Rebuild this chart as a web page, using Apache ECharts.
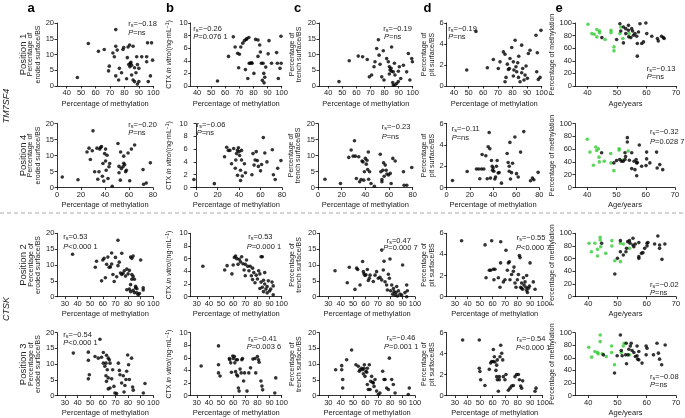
<!DOCTYPE html>
<html><head><meta charset="utf-8">
<script src="https://cdn.jsdelivr.net/npm/echarts@6/dist/echarts.min.js"></script>
<style>html,body{margin:0;padding:0;background:#fff}#c{width:685px;height:418px}</style>
</head><body><div id="c"></div>
<script>
// ---------------- DATA ----------------
const methTicks1 = [40,50,60,70,80,90,100];
const methTicks2 = [0,20,40,60,80];
const methTicks3 = [30,40,50,60,70,80,90,100];
const ageTicks = [40,50,60,70];
const rowLabels = ['Position 1','Position 4','Position 2','Position 3'];
const geneLabels = ['TM7SF4','CTSK'];
const panelLetters = ['a','b','c','d','e'];
const rsText = [['−0.18','−0.26','−0.19','−0.19','−0.13'],['−0.20','−0.06','−0.23','−0.11','−0.32'],['0.53','0.53','0.47','−0.55','−0.02'],['−0.54','−0.41','−0.46','−0.54','−0.08']];
const pText = [['=ns','=0.076 1','=ns','=ns','=ns'],['=ns','=ns','=ns','=ns','=0.028 7'],['<0.000 1','=0.000 1','=0.000 7','<0.000 7','=ns'],['<0.000 1','=0.003 6','=0.001 1','<0.000 1','=ns']];

const p1a = [[47.4,2.7],[55,13.5],[62,11],[66,11.6],[69,4.8],[69.5,6.3],[72,10.5],[73,9.3],[74,12.6],[74,17.9],[74,3.2],[75,11.4],[76,1.9],[76.5,5.6],[78,4.2],[79,11.6],[79.5,12.2],[81.5,2.3],[82,9],[82.5,12.4],[83.6,13],[84,7.2],[85,6.6],[83.8,6.1],[86,12.6],[85,3.5],[87,5.8],[86,1.9],[87,1.4],[88,4.2],[88.5,9.3],[89,6.8],[90,5.6],[90,1.4],[89,0.6],[92,9.3],[95.4,7.7],[96,13.7],[95.4,9.3],[96.5,1.4],[98,3.2],[98.8,13.7],[99.5,8.2],[83,6.8],[84.5,7.5]];
const p1b = [[54.5,0.8],[62.3,4.7],[67,6.2],[65.7,7.8],[70,5.05],[69.5,2.9],[68.8,5.2],[71,6.2],[72.4,6.8],[73.6,7.2],[74.8,7.4],[75.3,7.5],[76.7,7.7],[77,3.6],[77.7,3.6],[78.6,3.7],[74.3,2.6],[76,1.2],[80.3,2],[81.5,7.4],[83.2,7.3],[84.4,6.5],[84.9,5.4],[83.2,4.7],[85.6,3.6],[86.8,3.6],[86.3,0.9],[87.5,0.5],[88,1.4],[87.3,2],[88.7,3],[90.4,5.1],[91,7.2],[92.8,3.6],[96.4,5.3],[96.9,3.6],[97.6,1.2],[98.8,2.8],[99.6,3.6],[99.5,7.9],[79,3.6]];
const p1c = [[47.6,1.4],[54.9,8],[61.3,9.5],[64.4,9.3],[67.7,8.4],[69.2,2.9],[70.8,3.5],[72.5,6.1],[73.2,7.7],[74.4,11.9],[75.6,14.7],[76.1,9.8],[76.8,6.9],[78,2.9],[79.1,11.2],[79.6,1.9],[81.5,8.7],[82.7,7.7],[83.4,6.1],[83.9,5.1],[84.6,5.6],[85,4.7],[85.8,1.1],[86.2,0.3],[87.4,0.3],[88.6,0.8],[85,12.4],[87,7.2],[87.4,3.5],[89.8,4.7],[90.5,6.1],[91.5,2.4],[93.4,6.6],[95.7,4.5],[96.9,10.3],[98,1.9],[99.3,8.7],[99.8,7.7],[89.8,1.4],[86.2,4.5],[83.4,3.8]];
const p1d = [[48.7,1.52],[55,5.2],[62.8,1.74],[66.9,2.53],[70.3,1.67],[71.5,2.3],[73.8,3.25],[74.9,3.03],[75.6,0.82],[74.9,0.41],[76.5,2.08],[77.2,1.58],[77.9,1.67],[78.3,2.62],[79.5,3.66],[80.6,0.95],[81,1.52],[81.8,4.36],[82.4,1.83],[82.9,1.36],[83.6,2.21],[84.3,2.84],[85.2,0.41],[86.3,3.89],[86.3,1.26],[87,1.67],[87.9,0.57],[88.6,1.04],[89.3,1.9],[90.2,0.73],[90.9,3.1],[92,3.4],[96.1,4.83],[97,3.16],[96.6,1.36],[97.7,0.63],[98.9,0.82],[99.5,5.3],[84.1,0.82],[80.6,2.3]];
const e1Green = [[40.2,97.9],[41.5,83.2],[42.3,82.1],[43.2,89.5],[43.2,77.9],[44.1,87.4],[44.1,84.7],[46,73.7],[48,88.4],[48,84.7],[49,62.1],[49,55.8],[51,83.2],[51.3,93.7],[52,75.3],[54.1,83.2]];
const e1Black = [[44.9,76.8],[49.9,73.7],[51,98.9],[51.3,87.4],[52.2,68.4],[53,91],[53,83.2],[53.9,88.4],[53.9,96.3],[54.7,76.8],[55,91],[55.3,87.4],[55.6,80.5],[56.1,83.2],[56.7,78.9],[56.9,67.4],[56.9,47.4],[57.3,85.8],[57.8,98.9],[58.4,67.4],[59,70],[59.8,100],[60.1,83.2],[61.8,78.9],[63.7,75.3],[64,71.6],[65.1,78.9],[65.7,76.8],[66,75.3],[52.2,93.7],[54,78]];

const p2a = [[4.4,3.3],[17.5,2.4],[25,11.1],[26.7,12.3],[27.8,8.75],[29.4,11.5],[30,17.7],[31.4,4.9],[33.3,12.3],[34,2.6],[35,4.9],[35.6,12],[36.4,12.5],[37,12.8],[37.8,3.5],[38.3,7.5],[39,2],[39.7,10.6],[40.5,12],[40.5,8.3],[41,5.4],[41.7,10.1],[42.5,2.8],[43.3,6.5],[43.9,7.5],[46,0.4],[50.8,13.75],[51.7,6.6],[51.7,4.6],[52.8,2.3],[53,11.1],[53.6,5.9],[55,6.5],[55.6,9.8],[55.6,7.6],[56.4,7.1],[57.2,4.9],[57.8,5.4],[59.2,10.8],[60.6,2.1],[62,12],[64.7,13.3],[71.7,5.6],[72.2,1],[74.4,1.4],[77.8,7.7]];
const p2b = [[-2,1.25],[17,0.6],[26.5,4.8],[28.5,6.3],[30,5.8],[31.5,5.8],[33,3.7],[35,6.1],[36.5,3],[37,4.3],[37.7,5.3],[38.5,5.8],[39.4,6.2],[40,5.6],[40.5,5],[41.4,2.7],[42.3,4.3],[38.6,1.9],[41.4,1.1],[42.3,5.8],[43,1.8],[45,3.7],[46,2.3],[52,2],[53,5.3],[54,3.5],[55,4.3],[56,5.6],[57,4.2],[58,3.3],[60,2.6],[61,3.6],[62.6,7.8],[64,5.4],[66,4],[71,5.9],[72,2],[73.7,1.25],[76,3],[79,4.2]];
const p2c = [[5.9,2.6],[19,1.25],[26,9.4],[28,11.7],[29.7,9.8],[30.8,14.6],[32.4,2.8],[31.6,9.8],[34.4,9.6],[35.2,1.8],[36.4,2.5],[37.2,8.3],[38,8],[38.6,2.3],[39.2,4.9],[40,9.1],[40.8,7.3],[41.4,8.5],[42,5.6],[42.5,11.1],[42.8,2.6],[43.6,4.9],[44.8,1.25],[47.6,0.4],[52.6,10.4],[53.1,4.9],[54,2.5],[54,1.8],[54.8,5.4],[55.4,7.7],[55.9,3.5],[56.8,7],[57.6,5.4],[58.2,4.2],[59.6,3.9],[61,4.4],[61.8,1.25],[63.2,9.1],[65.2,8.3],[72.2,4.9],[72.7,0.7],[75,0.7],[79.2,6.25]];
const p2d = [[5,0.66],[17.7,1.5],[25.7,1.74],[27.7,1.74],[28.6,0.82],[30.1,1.74],[30.6,3.1],[32.1,1.74],[33.8,2.97],[35,0.82],[35.8,3.82],[36.7,5.15],[37.3,3.63],[37.8,0.88],[38.7,2.53],[39.3,1.99],[39.6,1.61],[40.1,1.83],[40.7,1.52],[41.6,0.79],[42.2,0.98],[43,1.99],[43.6,2.53],[44.5,1.36],[45.3,1.4],[47.3,0.41],[52.2,3.19],[53.1,2.34],[54,1.99],[54,1.52],[54.6,4.23],[55.1,0.79],[56,1.39],[56.9,2.27],[58.9,4.74],[60.3,1.3],[61.8,0.98],[63.8,3.32],[66.6,5.24],[72.4,0.63],[74.1,0.88],[75.3,0.73],[79,1.42]];
const e2Green = [[40,75.3],[40.9,55.3],[42.1,34.7],[42.9,63.2],[43.2,57.9],[43.8,60.5],[44.1,40],[44,47.4],[45.8,41],[48,53.2],[48.1,38.4],[49.1,26.3],[50.9,60.5],[50.9,58.4],[52.1,42.6],[54,57]];
const e2Black = [[44.9,54.2],[49.1,38.4],[50,42.1],[51.1,43.7],[51.7,41],[52.3,41],[52.9,54.2],[52.9,43.7],[53.1,48.4],[53.7,77.9],[53.7,71],[54.4,42.6],[55.2,54.2],[55.2,29.5],[56,41],[56.3,27.9],[56.7,43.7],[56.9,38.4],[57.1,38.9],[56.9,18.4],[57.8,66.3],[58.6,33.2],[60.1,34.2],[60.3,44.7],[60.3,55.3],[61.4,38.4],[63.7,55.3],[63.9,30.5],[64.8,35.8],[65.8,27.9]];

const p3a = [[36,13.4],[54,9.3],[55,11.2],[59,5],[60,11.6],[61,12.1],[62,6],[63,10.2],[64,12.5],[65,9.3],[66,9.4],[67,13.8],[67,10.3],[68,7],[69,4.8],[70,12.4],[71,6.3],[72,17.8],[72,9.8],[73,10.9],[74,7.5],[75,13.7],[75,7],[76,7.4],[77,8.2],[78,6.5],[79,8.7],[79,2.2],[80,7.2],[81,8.3],[81,2.4],[82,12.5],[82,3.8],[83,7],[83,12.1],[83,5.5],[84,6.4],[84,2],[84,12.8],[85,5.5],[85,1.3],[86,2.8],[86,3.3],[87,2.5],[87,1.2],[88,0.6],[89,1],[90,11.6],[92,2.8],[92,2.1],[82,1.6]];
const p3b = [[35,4.8],[53,4.2],[55,4.9],[59,3.6],[60,5],[61,6.2],[62,6.4],[63,6],[64,5.1],[65,5.9],[66,5.5],[67,6.3],[68,5.2],[69,4.2],[70,5.1],[70,3.3],[71,5.8],[72,4.8],[73,4.1],[74,4.8],[75,3.3],[76,4.5],[76,2.7],[77,3.8],[78,2.2],[79,3.4],[80,2.8],[81,4.1],[82,3.6],[83,6.3],[83,2.3],[84,1.5],[84,6.3],[85,2.6],[86,3.8],[86,2],[87,1.2],[88,1.6],[88,0.6],[89,2.5],[90,0.9],[91,1.2],[92,2.3],[93,1.7],[93,0.3],[82,1.3],[85,0.8]];
const p3c = [[35.4,8.2],[45.3,4.4],[46.9,9.3],[51.5,2.3],[52.9,9],[53.7,8.6],[55.6,3.7],[57.7,11.1],[58.3,7.9],[58.8,7.2],[59.6,6.7],[60.4,6.9],[61.5,8.6],[62.3,5.1],[63.1,5.8],[63.7,6.8],[73.1,14.7],[66.3,4.8],[67.7,6.8],[69,7.9],[70.4,5.8],[71.7,6.1],[73.1,5.3],[74.4,8.4],[75,11.2],[75.8,4.7],[77.1,3.7],[77.7,2.1],[78.5,7.1],[79.3,5.8],[79.8,11.9],[80.3,1.9],[81.2,3.7],[82,0.8],[82.6,2.6],[83.1,1.6],[83.9,0.5],[84.7,1.3],[85.2,3.2],[85.8,0.2],[86.6,1.9],[87.9,0.8],[89.3,0.5],[90,10],[91.9,1.3],[93.3,0],[93.8,1.9],[93.3,3.7]];
const p3d = [[35.3,5.3],[54,4.9],[59.3,5.3],[54.8,1.8],[60.6,2.6],[61.9,2.6],[61.1,1.6],[64.6,1.8],[65.9,0.9],[66.4,3.2],[66.5,5.2],[68.6,1.4],[69.9,1.6],[70.7,4.4],[71.8,2.5],[72.6,3.2],[73.4,3.3],[73.9,1.6],[75.2,2.1],[76.6,2.4],[77.1,2.8],[77.9,1.3],[78.7,0.9],[79.8,1.6],[80.6,2.1],[81.4,3.9],[81.9,3.7],[82.4,0.9],[83.2,1.3],[83.2,0.8],[84,0.7],[84.6,1.8],[85.1,1.1],[85.9,1.4],[86.7,0.9],[87.2,0.6],[87.8,0.4],[88.6,0.8],[89.4,1],[92.5,1.4],[93.9,0.7],[87.2,2],[89.9,3.2],[58.5,2.5],[57.4,2.5]];
const e3Green = [[40.3,84.2],[41.1,71],[42.3,84.2],[43.2,74.7],[43.2,64.2],[44.1,93.7],[44.1,89.5],[44.3,78.9],[46,68.4],[48.1,88.4],[48.1,80],[49.1,56.8],[51,84.2],[51,55.3],[52,83.2],[54.1,76.3]];
const e3Black = [[44.6,84.2],[49.1,35.8],[50,60.5],[51,88.4],[51,71],[52,65.8],[52.9,71],[53.1,76.3],[53.5,86.8],[54.1,88.4],[54.3,84.2],[55.3,92.1],[55.3,81.6],[55.6,78.9],[56.1,83.2],[57.3,85.3],[57.3,63.2],[57.3,60.5],[58.2,68.4],[58.7,69.5],[59.3,76.3],[60.1,84.2],[60.1,80],[60.4,85.3],[62.7,83.2],[63.8,95.8],[64.4,81.6],[64.4,76.3],[65.2,58.9],[66.2,83.2]];

const p4a = [[36.6,13.5],[48.5,13.8],[48.5,11.2],[48.5,5.3],[49.3,6.6],[57.7,17.9],[53.8,12.4],[56.4,11.9],[59,12.2],[60.4,13.7],[60.4,10.3],[62.5,10.3],[61.6,9.3],[62.9,12.8],[63.5,8.2],[62.5,6.3],[62.9,4.5],[64.3,5.6],[64.3,11.9],[65.1,11.4],[65.7,10.3],[65.7,2.4],[64.3,2.1],[67,5.3],[67.8,8.2],[68.8,2.9],[69.6,0.8],[70.9,0.6],[72.3,10.3],[73.1,8],[73.6,6.6],[74.9,4],[76.2,6.3],[76.8,1.1],[77.5,3.2],[78.3,5.1],[78.9,7.7],[79.7,12.9],[80.4,9.8],[81,5.1],[82.8,11.9],[83.6,2.7],[84.1,1.7],[92.1,0.8],[93.4,3.8]];
const p4b = [[33.6,4.7],[47.9,7.9],[47.9,4.9],[47.9,3.6],[49.2,3.1],[56.9,5.9],[59.7,6.3],[61,6.2],[62.4,5.7],[63.5,5.7],[57.1,5.7],[58,5.2],[58.6,3.7],[60,5.9],[61.4,5.2],[62,3.8],[62.9,3.3],[63.7,3.1],[64.3,1.2],[64.9,0.7],[65.7,4.2],[66.6,3.6],[67.1,5.7],[67.7,5.9],[68.6,2.3],[69.4,3.6],[71.4,0.7],[72.9,3.6],[74.3,4.4],[76.3,5.8],[78,5.9],[78.6,3.6],[80,6.2],[80.9,5.7],[81.4,5.3],[82.9,2.3],[83.7,1.5],[84.3,0.9],[95.1,2.8],[94.3,0.4]];
const p4c = [[35.9,8.2],[40.8,9.5],[40.8,8.2],[41.6,5.1],[41.6,2.4],[44.8,11.4],[48.8,14.5],[52.3,9.8],[54.2,9.3],[55,7.7],[55.6,8.2],[56.9,8.7],[57.7,8.2],[58.3,6.9],[58.8,8.7],[59.1,9.8],[59.6,6.1],[60.4,7.7],[61,7.4],[61.5,8.7],[61.5,3.5],[62.3,1.9],[63.1,9.8],[63.7,1.9],[64.2,4.5],[65,6.1],[65.8,4.2],[66.3,4],[66.9,2.9],[67.7,5.1],[69,1.4],[70.4,0.3],[71.7,0.8],[73.9,7.7],[75,5.1],[75.8,5.1],[77.1,2.4],[78.5,1.9],[79.3,11.9],[81.2,5.1],[82.5,3.5],[83.9,0.8],[95.4,2.4],[94.6,0.3]];
const p4d = [[36.1,5.3],[49.4,5.3],[49.4,2.6],[49.9,2.3],[50.5,1.5],[53.9,0.95],[57.4,2.5],[58.5,3.1],[59.3,3.25],[60.6,3.25],[60.6,4.4],[61.4,3.7],[61.9,3.2],[62.7,2.4],[63.3,1.8],[63.8,1.5],[64.6,0.4],[65.4,1.5],[65.9,3.7],[66.5,4.8],[67.3,4.04],[68.1,3.4],[68.6,1.8],[69.9,1.5],[70.7,2],[72.6,0.5],[73.9,0.7],[75.2,0.9],[76.6,0.95],[77.9,1.8],[79.2,2],[80.6,2],[81.4,1.5],[82.4,0.9],[83.2,0.7],[84,1.4],[93.9,0.4],[94.7,0.7],[63.3,2.9],[63.8,3.4],[65.4,1.8]];
const e4Green = [[40.2,76.8],[41.2,61.1],[42.3,70],[43.2,68.4],[43.4,66.3],[44.1,96.3],[44.1,85.8],[44.8,66.3],[46.2,62.1],[48,78.9],[48,68.4],[49,48.9],[51.3,68.4],[52,78.9],[52.3,83.2],[54.1,64.7]];
const e4Black = [[45.2,64.7],[49,35.8],[49.9,63.2],[51,96.3],[51.3,71.6],[51.6,63.2],[52.8,64.7],[53,83.2],[53.1,50.5],[53.6,64.7],[53.9,73.7],[54.4,78.9],[54.7,83.2],[55,71.6],[55.6,68.4],[56.1,62.1],[56.7,78.9],[56.7,63.2],[56.9,57.9],[57.3,70],[57.3,56.8],[58.4,51.6],[59.8,78.9],[59.8,64.7],[60.1,75.3],[62.3,64.7],[63.5,83.2],[64,67.4],[64.4,57.9],[65.1,48.9],[66.3,80.5]];

// ---------------- LAYOUT ----------------
const FONT = '"Liberation Sans", Arial, Helvetica, sans-serif';
const FS = 7.5;
const YFS = 7;
const rowsY = [[23,86],[123.5,187.5],[233.3,296.7],[332.7,396]];
const gridX = [
  [[57,153.3],[190.7,281.7],[319,412.7],[446.7,541.7],[575,676]],
  [[57,153],[190.7,282],[318,412.7],[446.7,539.3],[575,675]],
  [[57.3,153.3],[190.7,281.7],[319.3,415],[446.7,542.7],[575,676]],
  [[57.3,153.3],[190.7,281.7],[319.3,415],[446.7,542.7],[575,676]]
];
const xRanges = [
  [[33.3,100],[35.5,100],[33.4,100],[35,100],[35.8,70]],
  [[0,80],[-5,80],[0,80],[0,80],[35.8,70]],
  [[23.9,100],[25,100],[22.7,100],[23.4,100],[35.5,70]],
  [[23.9,100],[25,100],[22.7,100],[23.4,100],[35.5,70]]
];
const xTicksByRow = [methTicks1, methTicks2, methTicks3, methTicks3];
const yCfg = [
  {max:20, interval:5, name:'Percentage of\neroded surface/BS', gap:5},
  {max:10, interval:2, name:'CTX {i|in vitro}/(ng·mL{sup|−1})', gap:18},
  {max:20, interval:5, name:'Percentage of\ntrench surface/BS', gap:16},
  {max:6, interval:2, name:'Percentage of\npit surface/BS', gap:10},
  {max:100, interval:20, name:'Percentage of methylation', gap:15}
];
const dataRows = [[p1a,p1b,p1c,p1d,[e1Green,e1Black]],[p2a,p2b,p2c,p2d,[e2Green,e2Black]],[p3a,p3b,p3c,p3d,[e3Green,e3Black]],[p4a,p4b,p4c,p4d,[e4Green,e4Black]]];
const annPos = [
  [[128.3,24],[193.3,29.3],[383.3,29.3],[448.3,29.3],[646.7,69.3]],
  [[128.3,124.5],[196.7,124.5],[381.7,127.3],[451.7,129.3],[650,132.3]],
  [[63.3,236.7],[248.3,236.7],[386.7,240.7],[516.7,238.3],[650,285]],
  [[63.3,335],[248.3,339.3],[386.7,338.3],[516.7,339.3],[650,376.7]]
];
const pPos = [
  [[128.3,33.3],[193.3,36.7],[384,36.7],[448.3,36.7],[646.7,77.3]],
  [[128.3,133.3],[196.7,133.3],[381.7,136.7],[451.7,138.3],[650,142.3]],
  [[63.3,246.7],[246.7,246.7],[383.3,248.3],[516,248.3],[650,293]],
  [[63.3,343.3],[246.7,346.7],[384,346.7],[516,348.3],[650,385]]
];

const grids=[], xAxes=[], yAxes=[], series=[], graphics=[];
const axisLine = {show:true, lineStyle:{color:'#000', width:0.8}};
const axisTick = {show:true, length:2.5, inside:false, lineStyle:{color:'#000', width:0.8}};
const labelStyle = {fontSize:FS, color:'#222', fontFamily:FONT};

for (let r=0;r<4;r++){
  for (let c=0;c<5;c++){
    const idx = grids.length;
    const [L,R] = gridX[r][c];
    const [T,B] = rowsY[r];
    grids.push({left:L, top:T, width:R-L, height:B-T, containLabel:false});
    const ticks = c===4 ? ageTicks : xTicksByRow[r];
    xAxes.push({
      type:'value', gridIndex:idx, min:xRanges[r][c][0], max:xRanges[r][c][1],
      name: c===4 ? 'Age/years' : 'Percentage of methylation',
      nameLocation:'middle', nameGap:13.5,
      nameTextStyle:{fontSize:FS, color:'#222', fontFamily:FONT},
      axisLine, axisTick:Object.assign({customValues:ticks}, axisTick),
      axisLabel:Object.assign({customValues:ticks, margin:3}, labelStyle),
      splitLine:{show:false}
    });
    const yc = yCfg[c];
    yAxes.push({
      type:'value', gridIndex:idx, min:0, max:yc.max, interval:yc.interval,
      name: yc.name, nameLocation:'middle', nameRotate:90, nameGap:yc.gap,
      nameTextStyle:{fontSize:YFS, color:'#222', fontFamily:FONT, lineHeight:7.5,
        rich:{i:{fontSize:YFS, fontStyle:'italic', color:'#222', fontFamily:FONT}, sup:{fontSize:5, verticalAlign:'top', color:'#222', fontFamily:FONT, padding:[0,0,4,0]}}},
      axisLine, axisTick,
      axisLabel:Object.assign({margin:3}, labelStyle),
      splitLine:{show:false}
    });
    const d = dataRows[r][c];
    if (c===4){
      series.push({type:'scatter', xAxisIndex:idx, yAxisIndex:idx, data:d[0], symbolSize:3.6, itemStyle:{color:'#33cc33'}, silent:true});
      series.push({type:'scatter', xAxisIndex:idx, yAxisIndex:idx, data:d[1], symbolSize:3.6, itemStyle:{color:'#000'}, silent:true});
    } else {
      series.push({type:'scatter', xAxisIndex:idx, yAxisIndex:idx, data:d, symbolSize:3.6, itemStyle:{color:'#000'}, silent:true});
    }
    const rich = {
      r:{fontSize:FS, fontFamily:FONT, fill:'#222', color:'#222'},
      s:{fontSize:5.5, fontFamily:FONT, fill:'#222', color:'#222', padding:[3,0,0,0]},
      t:{fontSize:FS, fontFamily:FONT, fill:'#222', color:'#222'},
      p:{fontSize:FS, fontFamily:FONT, fill:'#222', color:'#222', fontStyle:'italic'}
    };
    graphics.push({type:'text', x:annPos[r][c][0], y:annPos[r][c][1],
      style:{text:'{r|r}{s|s}{t|=' + rsText[r][c] + '}', rich, fill:'#222', font:FS+'px '+FONT, verticalAlign:'middle', textVerticalAlign:'middle', align:'left', textAlign:'left'}});
    graphics.push({type:'text', x:pPos[r][c][0], y:pPos[r][c][1],
      style:{text:'{p|P}{t|' + pText[r][c] + '}', rich, fill:'#222', font:FS+'px '+FONT, verticalAlign:'middle', textVerticalAlign:'middle', align:'left', textAlign:'left'}});
  }
}
const letterX = [31,170,297.5,427.5,559];
panelLetters.forEach((l,i)=>graphics.push({type:'text', x:letterX[i], y:8,
  style:{text:l, font:'bold 13px '+FONT, fill:'#000', align:'center', verticalAlign:'middle', textAlign:'center', textVerticalAlign:'middle'}}));
const rowCenters = [54.5,155.5,265,364.3];
rowLabels.forEach((t,i)=>graphics.push({type:'text', x:23, y:rowCenters[i], rotation:Math.PI/2,
  style:{text:t, font:'9.5px '+FONT, fill:'#222', align:'center', verticalAlign:'middle', textAlign:'center', textVerticalAlign:'middle'}}));
const geneCenters = [106,309];
geneLabels.forEach((t,i)=>graphics.push({type:'text', x:6, y:geneCenters[i], rotation:Math.PI/2,
  style:{text:t, font:'italic 9px '+FONT, fill:'#222', align:'center', verticalAlign:'middle', textAlign:'center', textVerticalAlign:'middle'}}));
graphics.push({type:'line', shape:{x1:0,y1:213,x2:685,y2:213}, style:{stroke:'#aaa', lineWidth:1, lineDash:[4,3]}});

const chart = echarts.init(document.getElementById('c'), null, {renderer:'canvas'});
chart.setOption({
  backgroundColor:'#fff', animation:false,
  grid:grids, xAxis:xAxes, yAxis:yAxes, series, graphic:graphics
});
</script></body></html>
